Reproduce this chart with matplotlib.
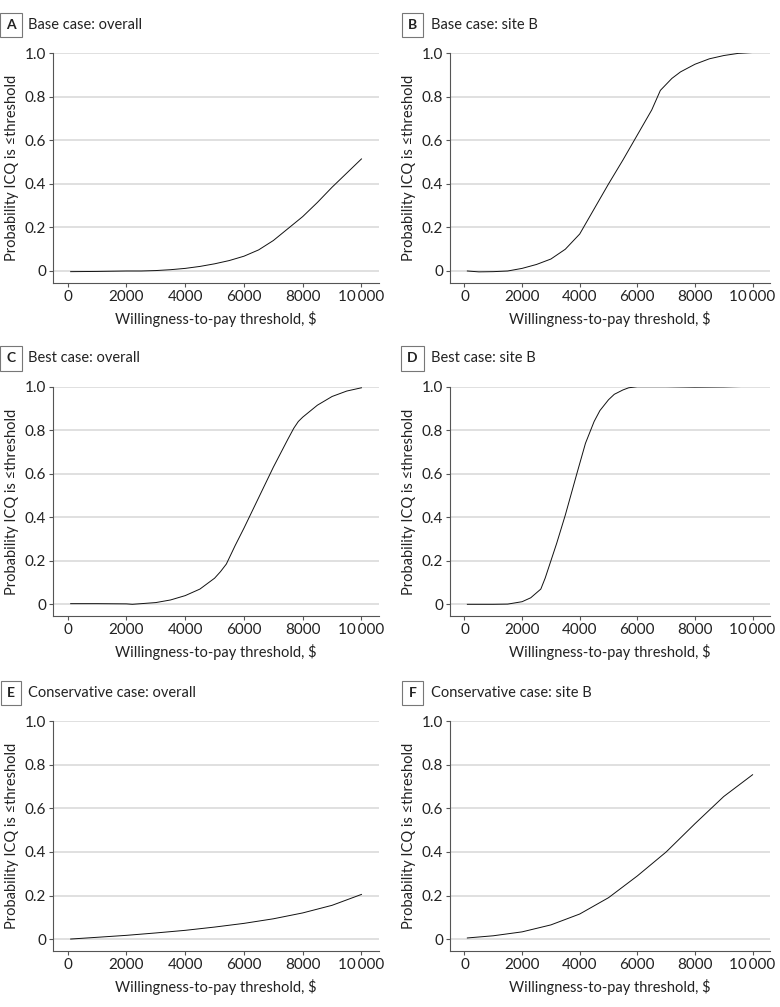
import matplotlib
matplotlib.use("Agg")
import matplotlib.pyplot as plt
from matplotlib.ticker import FixedLocator

plt.rcParams['font.family'] = ['Lato', 'DejaVu Sans']

# panel data (willingness-to-pay threshold, probability ICQ is <= threshold)
a_x = [100, 1000, 2000, 2500, 3000, 3500, 4000, 4500, 5000, 5500, 6000, 6500, 7000, 7500, 8000,
       8500, 9000, 9500, 10000]
a_y = [-0.003, -0.002, 0.0, 0.0, 0.002, 0.006, 0.012, 0.021, 0.033, 0.048, 0.068, 0.097, 0.14,
       0.195, 0.25, 0.315, 0.385, 0.45, 0.515]

b_x = [100, 500, 1000, 1500, 2000, 2500, 3000, 3500, 4000, 4500, 5000, 5500, 6000, 6500, 6800,
       7200, 7500, 8000, 8500, 9000, 9500, 10000]
b_y = [0.0, -0.004, -0.003, 0.0, 0.012, 0.03, 0.055, 0.10, 0.17, 0.285, 0.40, 0.51, 0.625, 0.74, 0.83,
       0.885, 0.915, 0.95, 0.975, 0.99, 1.0, 1.004]

c_x = [100, 1000, 2000, 2200, 3000, 3500, 4000, 4500, 5000, 5200, 5400, 5700, 6000, 6500, 7000,
       7500, 7700, 7850, 8000, 8500, 9000, 9500, 10000]
c_y = [0.003, 0.003, 0.002, 0.0, 0.008, 0.02, 0.04, 0.07, 0.12, 0.15, 0.185, 0.27, 0.35, 0.49, 0.63,
       0.76, 0.81, 0.84, 0.86, 0.915, 0.955, 0.98, 0.995]

d_x = [100, 1000, 1500, 2000, 2300, 2650, 2800, 3000, 3200, 3500, 3900, 4200, 4500, 4700, 5000,
       5200, 5500, 5700, 6000, 7000, 8000, 9000, 10000]
d_y = [0.0, 0.0, 0.001, 0.012, 0.03, 0.07, 0.12, 0.20, 0.28, 0.41, 0.60, 0.74, 0.84, 0.89, 0.94,
       0.965, 0.985, 0.995, 1.0, 1.0, 0.998, 0.999, 1.002]

e_x = [100, 1000, 2000, 3000, 4000, 5000, 6000, 7000, 8000, 9000, 10000]
e_y = [0.0, 0.008, 0.017, 0.028, 0.04, 0.055, 0.072, 0.093, 0.12, 0.155, 0.205]

f_x = [100, 1000, 2000, 3000, 4000, 5000, 6000, 7000, 8000, 9000, 10000]
f_y = [0.005, 0.015, 0.033, 0.065, 0.115, 0.19, 0.29, 0.40, 0.53, 0.655, 0.755]

panels = [
    ("A", "Base case: overall", a_x, a_y),
    ("B", "Base case: site B", b_x, b_y),
    ("C", "Best case: overall", c_x, c_y),
    ("D", "Best case: site B", d_x, d_y),
    ("E", "Conservative case: overall", e_x, e_y),
    ("F", "Conservative case: site B", f_x, f_y),
]

x_ticks = [0, 2000, 4000, 6000, 8000, 10000]
x_labels = ["0", "2000", "4000", "6000", "8000", "10\u2009000"]
y_ticks = [0, 0.2, 0.4, 0.6, 0.8, 1.0]
y_labels = ["0", "0.2", "0.4", "0.6", "0.8", "1.0"]

fig = plt.figure(figsize=(7.8, 10.07), dpi=100)

lefts = [0.068, 0.577]
widths = [0.418, 0.410]
bottoms = [0.719, 0.388, 0.0556]
height = 0.228
box_x = [0.014, 0.529]
title_x = [0.036, 0.553]
spine_col = "#555555"
txt_col = "#222222"

for i, (letter, title, xs, ys) in enumerate(panels):
    row, col = divmod(i, 2)
    ax = fig.add_axes([lefts[col], bottoms[row], widths[col], height])
    ax.plot(xs, ys, color="#111111", lw=0.7)
    ax.set_xlim(-500, 10600)
    ax.set_ylim(-0.055, 1.0)
    ax.yaxis.set_major_locator(FixedLocator(y_ticks))
    ax.set_yticklabels(y_labels)
    ax.xaxis.set_major_locator(FixedLocator(x_ticks))
    ax.set_xticklabels(x_labels)
    ax.grid(axis="y", color="#dddddd", lw=1.3)
    ax.set_axisbelow(True)
    for s in ["top", "right"]:
        ax.spines[s].set_visible(False)
    for s in ["left", "bottom"]:
        ax.spines[s].set_color(spine_col)
        ax.spines[s].set_linewidth(0.8)
    ax.tick_params(length=3, width=0.8, color=spine_col, labelsize=11, labelcolor=txt_col, pad=2)
    ax.set_xlabel("Willingness-to-pay threshold, $", fontsize=10.5, color=txt_col, labelpad=5)
    ax.set_ylabel("Probability ICQ is \u2264threshold", fontsize=10.5, color=txt_col, labelpad=4)

    # panel letter box and title
    by = ax.get_position().y1 + 0.028
    fig.text(box_x[col], by, letter, fontsize=10, fontweight="bold", ha="center", va="center",
             color=txt_col,
             bbox=dict(boxstyle="square,pad=0.45", fc="white", ec="#777777", lw=0.8))
    fig.text(title_x[col], by, title, fontsize=10.5, ha="left", va="center", color=txt_col)

fig.savefig("out.png", dpi=100)
